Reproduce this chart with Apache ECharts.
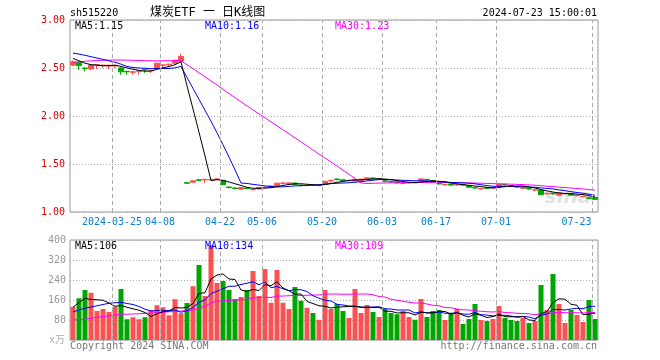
<!DOCTYPE html>
<html><head><meta charset="utf-8">
<script src="https://cdn.jsdelivr.net/npm/echarts@6/dist/echarts.min.js"></script>
<style>html,body{margin:0;padding:0;background:#fff}#c{width:660px;height:360px}</style>
</head><body><div id="c"></div>
<script>
const dates = ['2024-03-14','2024-03-15','2024-03-18','2024-03-19','2024-03-20','2024-03-21','2024-03-22',
'2024-03-25','2024-03-26','2024-03-27','2024-03-28','2024-03-29','2024-04-01','2024-04-02','2024-04-03',
'2024-04-08','2024-04-09','2024-04-10','2024-04-11','2024-04-12','2024-04-15','2024-04-16','2024-04-17','2024-04-18','2024-04-19',
'2024-04-22','2024-04-23','2024-04-24','2024-04-25','2024-04-26','2024-04-29','2024-04-30',
'2024-05-06','2024-05-07','2024-05-08','2024-05-09','2024-05-10','2024-05-13','2024-05-14','2024-05-15','2024-05-16','2024-05-17',
'2024-05-20','2024-05-21','2024-05-22','2024-05-23','2024-05-24','2024-05-27','2024-05-28','2024-05-29','2024-05-30','2024-05-31',
'2024-06-03','2024-06-04','2024-06-05','2024-06-06','2024-06-07','2024-06-11','2024-06-12','2024-06-13','2024-06-14',
'2024-06-17','2024-06-18','2024-06-19','2024-06-20','2024-06-21','2024-06-24','2024-06-25','2024-06-26','2024-06-27','2024-06-28',
'2024-07-01','2024-07-02','2024-07-03','2024-07-04','2024-07-05','2024-07-08','2024-07-09','2024-07-10','2024-07-11','2024-07-12',
'2024-07-15','2024-07-16','2024-07-17','2024-07-18','2024-07-19','2024-07-22','2024-07-23'];

const opens = [2.530,2.555,2.500,2.490,2.528,2.525,2.520,2.520,2.500,2.465,2.455,2.465,2.485,2.470,2.500,2.528,2.535,2.550,2.570,
1.305,1.310,1.335,1.335,1.335,1.340,1.330,1.260,1.250,1.238,1.250,1.232,1.240,1.253,1.256,1.272,1.298,1.298,1.302,1.280,1.275,1.280,1.275,
1.288,1.325,1.343,1.335,1.325,1.322,1.330,1.340,1.354,1.345,1.325,1.318,1.315,1.298,1.302,1.310,1.322,1.340,1.327,1.300,1.283,1.292,
1.282,1.285,1.275,1.255,1.240,1.252,1.250,1.260,1.288,1.275,1.265,1.248,1.245,1.228,1.228,1.190,1.195,1.175,1.190,1.190,1.170,1.160,1.148,1.152];
const closes = [2.565,2.525,2.495,2.530,2.535,2.530,2.528,2.525,2.460,2.460,2.460,2.470,2.480,2.475,2.550,2.532,2.540,2.580,2.620,
1.300,1.325,1.330,1.340,1.340,1.345,1.285,1.255,1.245,1.255,1.245,1.236,1.255,1.258,1.272,1.300,1.302,1.303,1.288,1.275,1.279,1.276,1.280,
1.320,1.330,1.338,1.325,1.330,1.340,1.342,1.356,1.349,1.348,1.320,1.313,1.303,1.302,1.306,1.305,1.345,1.335,1.322,1.292,1.287,1.280,
1.286,1.280,1.258,1.250,1.245,1.247,1.255,1.288,1.283,1.270,1.260,1.252,1.240,1.232,1.180,1.196,1.190,1.198,1.194,1.175,1.174,1.164,1.142,1.132];
const lows = [2.520,2.480,2.465,2.480,2.490,2.500,2.490,2.500,2.430,2.430,2.430,2.430,2.450,2.450,2.490,2.500,2.510,2.540,2.565,
1.295,1.305,1.320,1.305,1.330,1.335,1.280,1.245,1.235,1.232,1.235,1.225,1.235,1.245,1.252,1.270,1.290,1.292,1.285,1.268,1.270,1.270,1.272,
1.285,1.305,1.330,1.320,1.320,1.320,1.325,1.338,1.342,1.340,1.310,1.305,1.300,1.290,1.298,1.300,1.320,1.328,1.315,1.288,1.275,1.277,
1.272,1.275,1.252,1.242,1.232,1.240,1.242,1.258,1.275,1.262,1.252,1.240,1.232,1.215,1.175,1.182,1.180,1.168,1.185,1.170,1.162,1.155,1.135,1.125];
const highs = [2.580,2.560,2.505,2.535,2.540,2.535,2.535,2.530,2.505,2.470,2.470,2.475,2.490,2.480,2.555,2.540,2.545,2.590,2.650,
1.310,1.330,1.345,1.345,1.350,1.350,1.335,1.265,1.255,1.260,1.250,1.245,1.258,1.262,1.275,1.305,1.310,1.308,1.305,1.283,1.285,1.285,1.285,
1.322,1.333,1.348,1.340,1.335,1.342,1.345,1.360,1.358,1.352,1.330,1.322,1.318,1.306,1.310,1.315,1.350,1.345,1.330,1.305,1.290,1.295,
1.290,1.288,1.278,1.258,1.248,1.255,1.260,1.292,1.292,1.278,1.268,1.256,1.248,1.238,1.232,1.200,1.198,1.202,1.200,1.192,1.178,1.168,1.150,1.155];

const ma5 = [2.600,2.575,2.550,2.535,2.530,2.523,2.524,2.530,2.516,2.501,2.487,2.475,2.466,2.469,2.487,2.501,2.515,2.535,2.564,
2.314,2.073,1.831,1.583,1.327,1.336,1.328,1.313,1.294,1.277,1.257,1.247,1.247,1.250,1.253,1.264,1.277,1.287,1.293,1.294,1.289,1.284,1.280,
1.286,1.297,1.309,1.319,1.329,1.333,1.335,1.339,1.343,1.347,1.343,1.337,1.327,1.317,1.309,1.306,1.312,1.319,1.323,1.320,1.316,1.303,
1.293,1.285,1.278,1.271,1.264,1.256,1.251,1.257,1.264,1.269,1.271,1.271,1.261,1.251,1.233,1.220,1.208,1.199,1.192,1.191,1.186,1.181,1.170,1.157];
const ma10 = [2.655,2.645,2.632,2.618,2.604,2.590,2.575,2.560,2.540,2.516,2.505,2.500,2.498,2.493,2.494,2.494,2.495,2.501,2.517,
2.401,2.287,2.173,2.059,1.946,1.825,1.701,1.572,1.439,1.302,1.297,1.288,1.280,1.272,1.265,1.261,1.262,1.267,1.272,1.274,1.277,1.281,1.284,
1.290,1.296,1.299,1.302,1.305,1.310,1.316,1.324,1.331,1.338,1.338,1.336,1.333,1.330,1.328,1.325,1.325,1.323,1.320,1.315,1.311,1.308,
1.306,1.304,1.299,1.294,1.284,1.275,1.268,1.268,1.268,1.267,1.264,1.261,1.259,1.258,1.251,1.246,1.240,1.230,1.222,1.212,1.203,1.195,1.185,1.175];
const ma30 = [2.560,2.565,2.570,2.575,2.578,2.580,2.582,2.583,2.583,2.582,2.580,2.578,2.576,2.575,2.575,2.575,2.576,2.577,2.576,
2.534,2.494,2.451,2.409,2.365,2.323,2.278,2.234,2.191,2.149,2.106,2.063,2.022,1.980,1.939,1.898,1.856,1.815,1.773,1.730,1.688,1.645,1.603,
1.562,1.521,1.479,1.436,1.392,1.349,1.303,1.297,1.299,1.301,1.302,1.303,1.304,1.305,1.306,1.306,1.307,1.308,1.308,1.308,1.307,1.306,
1.305,1.304,1.303,1.301,1.300,1.298,1.296,1.294,1.292,1.290,1.288,1.285,1.282,1.279,1.274,1.269,1.264,1.259,1.254,1.250,1.245,1.240,1.234,1.228];

const volumes = [133,167,200,189,116,124,112,133,204,83,91,83,91,120,139,131,99,163,107,148,215,300,176,380,228,236,200,164,172,200,
276,176,284,149,280,149,124,212,157,129,108,81,200,124,144,116,88,204,108,140,112,92,124,108,103,116,92,81,164,92,
116,120,80,108,124,64,84,144,80,76,84,136,88,80,76,88,68,76,220,120,264,144,68,120,100,72,160,84];
const vma5 = [131,150,167,162,161,159,148,135,138,131,125,119,110,94,105,113,116,130,128,130,146,187,189,244,260,264,244,242,200,194,
202,198,222,217,233,208,197,183,184,154,146,137,135,128,131,133,134,135,132,131,130,131,115,115,108,109,109,100,111,109,
109,115,114,103,110,99,92,105,99,90,94,104,93,93,93,94,80,78,106,114,150,165,163,143,139,101,104,107];
const vma10 = [113,120,127,132,137,142,147,149,151,146,142,134,123,116,118,119,117,120,111,117,130,151,160,186,195,205,215,215,222,227,
233,221,232,209,214,205,197,202,201,194,177,167,159,156,143,140,136,135,130,131,132,133,125,124,120,120,120,108,113,108,
109,112,107,107,109,104,103,110,101,100,96,98,99,96,91,94,92,85,99,104,122,122,120,124,127,125,134,135];
const vma30 = [80,82,83,87,91,94,96,100,103,103,104,105,107,108,109,111,113,114,116,118,120,128,136,148,155,157,158,160,161,164,
168,169,171,170,175,176,177,179,178,179,180,180,183,184,184,183,183,184,184,184,181,174,172,163,159,155,151,148,148,144,
139,137,130,129,124,121,120,117,115,113,112,114,110,109,107,106,105,101,105,104,109,111,109,109,109,108,110,110];

const labelDates = ['2024-03-25','2024-04-08','2024-04-22','2024-05-06','2024-05-20','2024-06-03','2024-06-17','2024-07-01','2024-07-23'];
const labelTexts = ['2024-03-25','04-08','04-22','05-06','05-20','06-03','06-17','07-01','07-23'];
const priceHeader = ['MA5:1.15','MA10:1.16','MA30:1.23'];
const volHeader = ['MA5:106','MA10:134','MA30:109'];

const RED = '#fa5252', GREEN = '#00a600';
const MONO = 'DejaVu Sans Mono';
const N = dates.length;
const labelIdx = labelDates.map((d) => dates.indexOf(d));

const chart = echarts.init(document.getElementById('c'), null, {renderer: 'canvas'});
const candleData = dates.map((d, i) => [opens[i], closes[i], lows[i], highs[i]]);
const volData = volumes.map((v, i) => ({value: v, itemStyle: {color: closes[i] >= opens[i] ? RED : GREEN}}));

function txt(x, y, text, fill, align, size, extra) {
  const font = (extra || '') + (size || 10) + 'px "' + MONO + '", "Noto Sans CJK SC"';
  return {type: 'text', x: x, y: y, silent: true, z: 100,
    style: {text: text, fill: fill, font: font, align: align || 'left', verticalAlign: 'middle',
      textAlign: align || 'left', textVerticalAlign: 'middle'}};
}

const dotY = {show: true, lineStyle: {color: '#aaa', type: [1, 2], width: 1}};
const vMark = {symbol: ['none', 'none'], silent: true, label: {show: false}, animation: false,
  lineStyle: {color: '#aaa', type: [4, 3], width: 1},
  data: labelIdx.map((k) => ({xAxis: k}))};

chart.setOption({
  animation: false,
  backgroundColor: '#fff',
  grid: [
    {left: 70, top: 20, width: 528, height: 192, show: true, borderColor: '#999', borderWidth: 1, backgroundColor: 'transparent'},
    {left: 70, top: 240, width: 528, height: 100, show: true, borderColor: '#999', borderWidth: 1, backgroundColor: 'transparent'}
  ],
  xAxis: [
    {type: 'category', gridIndex: 0, data: dates, boundaryGap: true,
      axisLine: {show: false}, axisTick: {show: false},
      axisLabel: {show: true, interval: (i, v) => labelDates.indexOf(v) >= 0, margin: 5,
        formatter: (v) => { const k = labelDates.indexOf(v); return k === labelDates.length - 1 ? '{b|' + labelTexts[k] + '}' : '{a|' + labelTexts[k] + '}'; },
        rich: {
          a: {color: '#0a7fd0', fontFamily: MONO, fontSize: 10, padding: [0, 6, 0, 0]},
          b: {color: '#0a7fd0', fontFamily: MONO, fontSize: 10, padding: [0, 37, 0, 0]}
        }},
      splitLine: {show: false}},
    {type: 'category', gridIndex: 1, data: dates, boundaryGap: true,
      axisLine: {show: false}, axisTick: {show: false}, axisLabel: {show: false},
      splitLine: {show: false}},
    {type: 'value', gridIndex: 0, min: 0, max: N, show: false, splitLine: {show: false}},
    {type: 'value', gridIndex: 1, min: 0, max: N, show: false, splitLine: {show: false}}
  ],
  yAxis: [
    {type: 'value', gridIndex: 0, min: 1, max: 3, interval: 0.5,
      axisLine: {show: false}, axisTick: {show: false},
      axisLabel: {color: '#e00000', fontFamily: MONO, fontSize: 10, margin: 5, formatter: (v) => v.toFixed(2)},
      splitLine: dotY},
    {type: 'value', gridIndex: 1, min: 0, max: 400, interval: 80,
      axisLine: {show: false}, axisTick: {show: false},
      axisLabel: {color: '#999', fontFamily: MONO, fontSize: 10, margin: 4, formatter: (v) => v === 0 ? '' : String(v)},
      splitLine: dotY}
  ],
  series: [
    {type: 'line', xAxisIndex: 2, yAxisIndex: 0, data: [[0, null]], symbol: 'none', z: 1, markLine: vMark},
    {type: 'line', xAxisIndex: 3, yAxisIndex: 1, data: [[0, null]], symbol: 'none', z: 1, markLine: vMark},
    {type: 'candlestick', xAxisIndex: 0, yAxisIndex: 0, data: candleData, barWidth: 5, z: 3,
      itemStyle: {color: RED, color0: GREEN, borderColor: RED, borderColor0: GREEN, borderWidth: 1}},
    {type: 'line', xAxisIndex: 0, yAxisIndex: 0, data: ma30, symbol: 'none', z: 4, lineStyle: {color: '#ff00ff', width: 1}},
    {type: 'line', xAxisIndex: 0, yAxisIndex: 0, data: ma10, symbol: 'none', z: 4, lineStyle: {color: '#0000ff', width: 1}},
    {type: 'line', xAxisIndex: 0, yAxisIndex: 0, data: ma5, symbol: 'none', z: 4, lineStyle: {color: '#000', width: 1}},
    {type: 'bar', xAxisIndex: 1, yAxisIndex: 1, data: volData, barWidth: 5, z: 3},
    {type: 'line', xAxisIndex: 1, yAxisIndex: 1, data: vma30, symbol: 'none', z: 4, lineStyle: {color: '#ff00ff', width: 1}},
    {type: 'line', xAxisIndex: 1, yAxisIndex: 1, data: vma10, symbol: 'none', z: 4, lineStyle: {color: '#0000ff', width: 1}},
    {type: 'line', xAxisIndex: 1, yAxisIndex: 1, data: vma5, symbol: 'none', z: 4, lineStyle: {color: '#000', width: 1}}
  ],
  graphic: [
    txt(70, 13, 'sh515220', '#000', 'left', 10),
    txt(150, 13, '煤炭ETF 一 日K线图', '#000', 'left', 12),
    txt(597, 13, '2024-07-23 15:00:01', '#000', 'right', 10),
    txt(75, 26, priceHeader[0], '#000', 'left', 10),
    txt(205, 26, priceHeader[1], '#0000ff', 'left', 10),
    txt(335, 26, priceHeader[2], '#ff00ff', 'left', 10),
    txt(75, 246, volHeader[0], '#000', 'left', 10),
    txt(205, 246, volHeader[1], '#0000ff', 'left', 10),
    txt(335, 246, volHeader[2], '#ff00ff', 'left', 10),
    txt(65, 340, 'x万', '#aaa', 'right', 10),
    txt(70, 346, 'Copyright 2024 SINA.COM', '#777', 'left', 10),
    txt(597, 346, 'http://finance.sina.com.cn', '#777', 'right', 10),
    {type: 'text', x: 568, y: 198, silent: true, z: 1,
      style: {text: 'sina', fill: 'rgba(200,200,200,0.55)', font: 'italic bold 20px "DejaVu Sans"', align: 'center', verticalAlign: 'middle', textAlign: 'center', textVerticalAlign: 'middle'}}
  ]
});
</script>
</body></html>
